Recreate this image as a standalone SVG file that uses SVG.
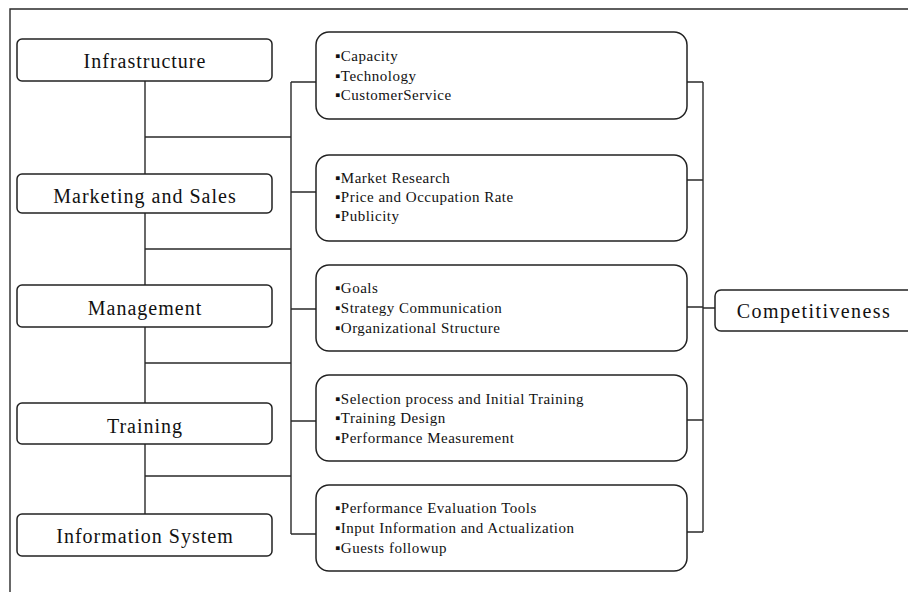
<svg xmlns="http://www.w3.org/2000/svg" width="908" height="592" viewBox="0 0 908 592">
<style>
.bx{fill:#fff;stroke:#222;stroke-width:1.5}
.ln{fill:none;stroke:#2a2a2a;stroke-width:1.4}
.lt{font-family:"Liberation Serif","Times New Roman",serif;font-size:20px;letter-spacing:1px;fill:#111;text-anchor:middle}
.it{font-family:"Liberation Serif","Times New Roman",serif;font-size:15px;letter-spacing:0.5px;fill:#111}
</style>
<rect width="908" height="592" fill="#fff"/>
<path class="ln" d="M10 592V9H908"/>
<g id="connectors">
<path class="ln" d="M145 81V174M145 213V285M145 327V403M145 444V514"/>
<path class="ln" d="M145 137H291M145 249H291M145 363H291M145 476H291"/>
<path class="ln" d="M291 82V534M291 82H316M291 192H316M291 309H316M291 421H316M291 534H316"/>
<path class="ln" d="M687 82H703M687 180H703M687 307H703M687 420H703M687 532H703M703 82V532M703 308H715"/>
</g>
<g id="infrastructure"><rect class="bx" x="17" y="39" width="255" height="42" rx="5"/><text class="lt" x="145" y="68">Infrastructure</text></g>
<g id="marketing"><rect class="bx" x="17" y="174" width="255" height="39" rx="5"/><text class="lt" x="145" y="203">Marketing and Sales</text></g>
<g id="management"><rect class="bx" x="17" y="285" width="255" height="42" rx="5"/><text class="lt" x="145" y="315">Management</text></g>
<g id="training"><rect class="bx" x="17" y="403" width="255" height="41" rx="5"/><text class="lt" x="145" y="433">Training</text></g>
<g id="infosystem"><rect class="bx" x="17" y="514" width="255" height="42" rx="5"/><text class="lt" x="145" y="543">Information System</text></g>
<g id="box1"><rect class="bx" x="316" y="32" width="371" height="87" rx="13"/>
<text class="it" x="335" y="61">▪Capacity</text><text class="it" x="335" y="81">▪Technology</text><text class="it" x="335" y="100">▪CustomerService</text></g>
<g id="box2"><rect class="bx" x="316" y="155" width="371" height="86" rx="13"/>
<text class="it" x="335" y="183">▪Market Research</text><text class="it" x="335" y="202">▪Price and Occupation Rate</text><text class="it" x="335" y="221">▪Publicity</text></g>
<g id="box3"><rect class="bx" x="316" y="265" width="371" height="86" rx="13"/>
<text class="it" x="335" y="293">▪Goals</text><text class="it" x="335" y="313">▪Strategy Communication</text><text class="it" x="335" y="333">▪Organizational Structure</text></g>
<g id="box4"><rect class="bx" x="316" y="375" width="371" height="86" rx="13"/>
<text class="it" x="335" y="404">▪Selection process and Initial Training</text><text class="it" x="335" y="423">▪Training Design</text><text class="it" x="335" y="443">▪Performance Measurement</text></g>
<g id="box5"><rect class="bx" x="316" y="485" width="371" height="86" rx="13"/>
<text class="it" x="335" y="513">▪Performance Evaluation Tools</text><text class="it" x="335" y="533">▪Input Information and Actualization</text><text class="it" x="335" y="553">▪Guests followup</text></g>
<g id="competitiveness"><rect class="bx" x="715" y="290" width="200" height="41" rx="6"/><text class="lt" x="814" y="318" style="letter-spacing:1.4px">Competitiveness</text></g>
</svg>
